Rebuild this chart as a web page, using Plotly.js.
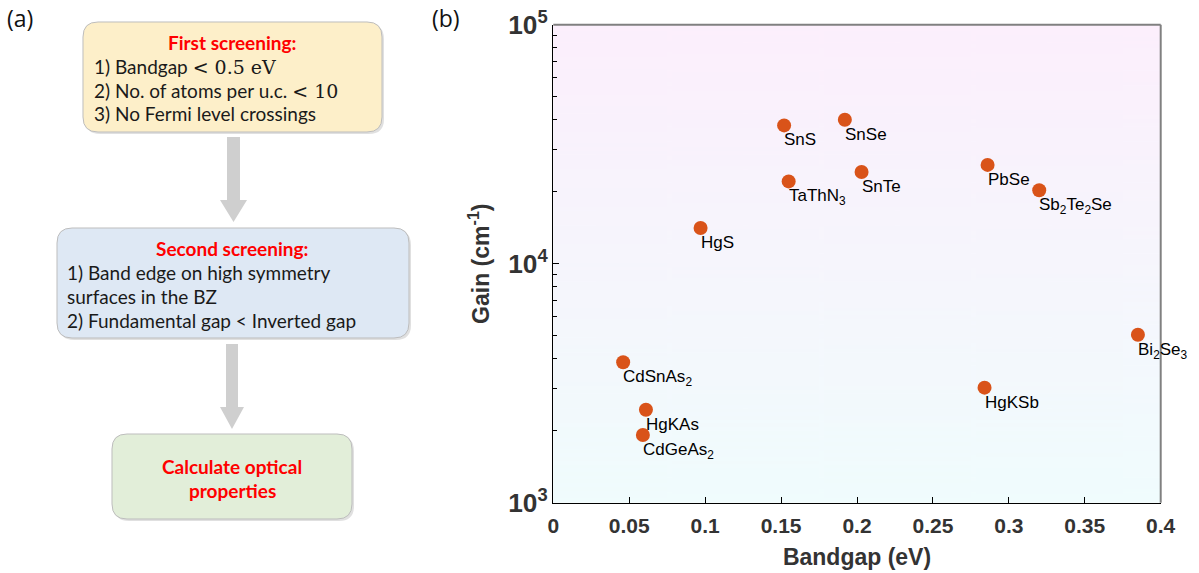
<!DOCTYPE html>
<html>
<head>
<meta charset="utf-8">
<script src="https://cdn.plot.ly/plotly-3.0.1.min.js"></script>
<style>html,body{margin:0;padding:0;background:#fff;}#chart{width:1199px;height:573px;}</style>
</head>
<body>
<div id="chart"></div>
<script>
// ---- data ----
const materials = ['SnS','SnSe','TaThN<sub>3</sub>','SnTe','HgS','PbSe','Sb<sub>2</sub>Te<sub>2</sub>Se','CdSnAs<sub>2</sub>','HgKAs','CdGeAs<sub>2</sub>','HgKSb','Bi<sub>2</sub>Se<sub>3</sub>'];
const bandgap = [0.152, 0.192, 0.155, 0.203, 0.097, 0.286, 0.320, 0.046, 0.061, 0.059, 0.284, 0.385];
const gain = [37900, 40000, 22100, 24200, 14100, 25900, 20300, 3870, 2450, 1920, 3030, 5040];
const xTicks = [0, 0.05, 0.1, 0.15, 0.2, 0.25, 0.3, 0.35, 0.4];

const W = 1199, H = 573;
const X = x => x / W, Y = y => 1 - y / H;
const plotL = 553.3, plotR = 1160.7, plotT = 24.7, plotB = 502.7;

function rrect(x0, y0, x1, y1, r) {
  const p = [
    ['M', x0 + r, y0], ['L', x1 - r, y0], ['Q', x1, y0, x1, y0 + r],
    ['L', x1, y1 - r], ['Q', x1, y1, x1 - r, y1], ['L', x0 + r, y1],
    ['Q', x0, y1, x0, y1 - r], ['L', x0, y0 + r], ['Q', x0, y0, x0 + r, y0]
  ];
  return p.map(s => {
    let out = s[0];
    for (let i = 1; i < s.length; i += 2) out += ' ' + X(s[i]).toFixed(5) + ',' + Y(s[i + 1]).toFixed(5);
    return out;
  }).join(' ') + ' Z';
}
function poly(pts) {
  return pts.map((p, i) => (i ? 'L ' : 'M ') + X(p[0]).toFixed(5) + ',' + Y(p[1]).toFixed(5)).join(' ') + ' Z';
}
function arrow(sx0, sx1, ys, ye, hx0, hx1, tipY) {
  const tx = (hx0 + hx1) / 2;
  return poly([[sx0, ys], [sx1, ys], [sx1, ye], [hx1, ye], [tx, tipY], [hx0, ye], [sx0, ye]]);
}

const boxes = [
  {x0: 83, y0: 22, x1: 382, y1: 132, fill: '#FDEFC9'},
  {x0: 57, y0: 228, x1: 409, y1: 338, fill: '#DEE8F4'},
  {x0: 112, y0: 434, x1: 352, y1: 519, fill: '#E2EED9'}
];
const shapes = [];
boxes.forEach(b => {
  shapes.push({type: 'path', xref: 'paper', yref: 'paper', path: rrect(b.x0 + 2, b.y0 + 2, b.x1 + 2, b.y1 + 2, 15), fillcolor: 'rgba(0,0,0,0.12)', line: {width: 0}, layer: 'above'});
  shapes.push({type: 'path', xref: 'paper', yref: 'paper', path: rrect(b.x0, b.y0, b.x1, b.y1, 15), fillcolor: b.fill, line: {color: '#BDBDBD', width: 1}, layer: 'above'});
});
shapes.push({type: 'path', xref: 'paper', yref: 'paper', path: arrow(227, 240, 137, 200, 220, 247, 222), fillcolor: '#CFCFCF', line: {width: 0}, layer: 'above'});
shapes.push({type: 'path', xref: 'paper', yref: 'paper', path: arrow(226, 238, 344, 407, 220, 244, 429), fillcolor: '#CFCFCF', line: {width: 0}, layer: 'above'});
// gray top & right frame lines
shapes.push({type: 'line', xref: 'paper', yref: 'paper', x0: X(plotL), x1: X(plotR), y0: Y(plotT), y1: Y(plotT), line: {color: '#808080', width: 2}});
shapes.push({type: 'line', xref: 'paper', yref: 'paper', x0: X(plotR), x1: X(plotR), y0: Y(plotT), y1: Y(plotB), line: {color: '#808080', width: 2}});

const ff = 'Lato, "Open Sans", sans-serif';
const red = '#FF0000';
const FS = 19;
const txt = (x, y, t, o = {}) => Object.assign({xref: 'paper', yref: 'paper', x: X(x), y: Y(y), text: t, showarrow: false,
  xanchor: 'left', yanchor: 'middle', font: {family: ff, size: FS, color: '#1a1a1a'}}, o);
const mathF = '<span style="font-family:\'DejaVu Serif\',serif">';
const bold = {family: ff, size: FS, color: red, weight: 'bold'};
const annotations = [
  txt(20, 18, '(a)', {xanchor: 'center', font: {family: '"Open Sans", Arial', size: 23, color: '#111'}}),
  txt(446, 18, '(b)', {xanchor: 'center', font: {family: '"Open Sans", Arial', size: 23, color: '#111'}}),
  txt(232, 43, 'First screening:', {xanchor: 'center', font: bold}),
  txt(92, 66, '1) Bandgap ' + mathF + '&lt; 0.5 eV</span>'),
  txt(92, 90, '2) No. of atoms per u.c. ' + mathF + '&lt; 10</span>'),
  txt(92, 113, '3) No Fermi level crossings'),
  txt(232, 248, 'Second screening:', {xanchor: 'center', font: bold}),
  txt(65, 272, '1) Band edge on high symmetry'),
  txt(65, 296, 'surfaces in the BZ'),
  txt(65, 320, '2) Fundamental gap &lt; Inverted gap'),
  txt(232, 466, 'Calculate optical', {xanchor: 'center', font: bold}),
  txt(232, 490, 'properties', {xanchor: 'center', font: bold})
];
// point labels, placed from the data arrays through the axes
materials.forEach((m, i) => {
  annotations.push({xref: 'x', yref: 'y', x: bandgap[i], y: Math.log10(gain[i]), text: m, showarrow: false,
    xanchor: 'left', yanchor: 'top', xshift: -2, yshift: -3,
    font: {family: '"Liberation Sans", Arial, sans-serif', size: 17, color: '#000'}});
});

// gradient background image
const cv = document.createElement('canvas');
cv.width = 8; cv.height = 256;
const ctx = cv.getContext('2d');
const g = ctx.createLinearGradient(0, 0, 0, 256);
g.addColorStop(0, '#FCEFFC');
g.addColorStop(1, '#F0FCFD');
ctx.fillStyle = g; ctx.fillRect(0, 0, 8, 256);

const trace = {
  type: 'scatter', mode: 'markers', x: bandgap, y: gain, text: materials, cliponaxis: false,
  marker: {size: 14, color: '#D95319'}, hoverinfo: 'x+y+text'
};

const axFont = {family: '"Liberation Sans", Arial, sans-serif', size: 21, color: '#333', weight: 'bold'};
const layout = {
  width: W, height: H, margin: {l: 0, r: 0, t: 0, b: 0},
  paper_bgcolor: '#fff', plot_bgcolor: 'rgba(0,0,0,0)', showlegend: false,
  xaxis: {domain: [X(plotL), X(plotR)], range: [0, 0.4], tickvals: xTicks, ticktext: xTicks.map(String),
    showline: true, linecolor: '#000', linewidth: 1.5, ticks: 'inside', ticklen: 6, tickcolor: '#000',
    showgrid: false, zeroline: false, tickfont: axFont, automargin: false, ticklabelstandoff: 4,
    title: {text: 'Bandgap (eV)', font: {family: axFont.family, size: 23, color: '#333', weight: 'bold'}, standoff: 12}},
  yaxis: {domain: [Y(plotB), Y(plotT)], type: 'log', range: [3, 5], dtick: 1, exponentformat: 'power',
    showline: true, linecolor: '#000', linewidth: 1.5, ticks: 'inside', ticklen: 6, tickcolor: '#000',
    minor: {dtick: 'D1', ticks: 'inside', ticklen: 4, tickcolor: '#000', showgrid: false},
    showgrid: false, zeroline: false, tickfont: axFont, automargin: false,
    title: {text: 'Gain (cm<sup>-1</sup>)', font: {family: axFont.family, size: 23, color: '#333', weight: 'bold'}, standoff: 12}},
  images: [{source: cv.toDataURL(), xref: 'paper', yref: 'paper', x: X(plotL), y: Y(plotT),
    sizex: X(plotR) - X(plotL), sizey: Y(plotT) - Y(plotB), sizing: 'stretch', layer: 'below', xanchor: 'left', yanchor: 'top'}],
  shapes: shapes, annotations: annotations
};
Plotly.newPlot('chart', [trace], layout, {displayModeBar: false, staticPlot: true});
</script>
</body>
</html>
